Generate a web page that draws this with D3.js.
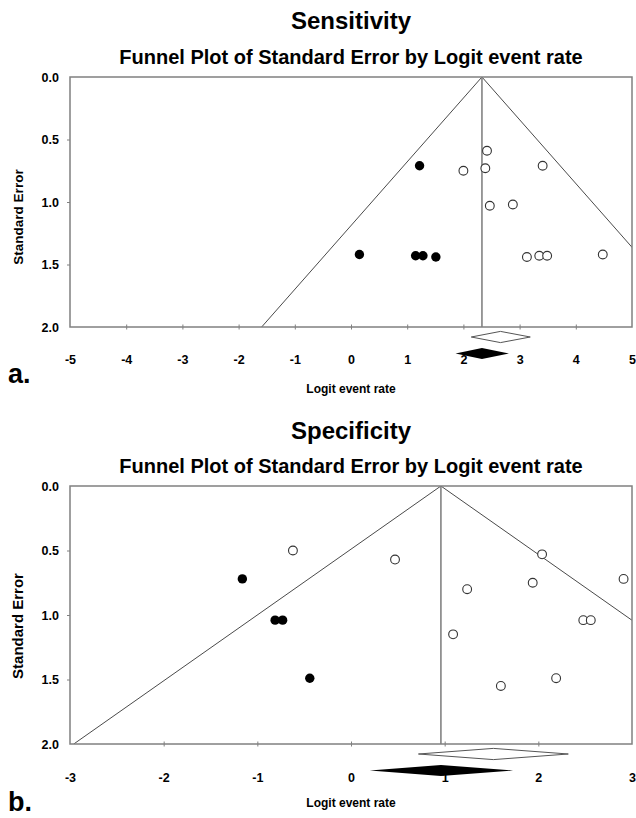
<!DOCTYPE html>
<html>
<head>
<meta charset="utf-8">
<script src="https://cdn.jsdelivr.net/npm/d3@7"></script>
<style>
  body { margin: 0; background: #fff; }
  text { font-family: "Liberation Sans", Arial, sans-serif; font-weight: bold; fill: #000; }
</style>
</head>
<body>
<div id="chart"></div>
<script>
// panel a: sensitivity
var sensObsX  = [2.42, 2.00, 2.39, 3.41, 2.47, 2.88, 3.13, 3.35, 3.49, 4.48];
var sensObsSE = [0.59, 0.75, 0.73, 0.71, 1.03, 1.02, 1.44, 1.43, 1.43, 1.42];
var sensImpX  = [1.22, 0.15, 1.15, 1.28, 1.51];
var sensImpSE = [0.71, 1.42, 1.43, 1.43, 1.44];
var sensObsDiamond = [2.14, 2.66, 3.19];   // lower, point, upper
var sensAdjDiamond = [1.86, 2.33, 2.81];
var sensTicks = [-5, -4, -3, -2, -1, 0, 1, 2, 3, 4, 5];

// panel b: specificity
var specObsX  = [-0.62, 0.47, 2.04, 1.24, 1.94, 2.91, 2.48, 2.56, 1.09, 2.19, 1.60];
var specObsSE = [0.50, 0.57, 0.53, 0.80, 0.75, 0.72, 1.04, 1.04, 1.15, 1.49, 1.55];
var specImpX  = [-1.16, -0.81, -0.73, -0.44];
var specImpSE = [0.72, 1.04, 1.04, 1.49];
var specObsDiamond = [0.72, 1.52, 2.32];
var specAdjDiamond = [0.20, 0.96, 1.73];
var specTicks = [-3, -2, -1, 0, 1, 2, 3];

var seTicks = [0, 0.5, 1.0, 1.5, 2.0];

var W = 636, H = 818;
var svg = d3.select("#chart").append("svg")
    .attr("width", W)
    .attr("height", H);

function drawPanel(opt) {
    var x = d3.scaleLinear().domain(opt.xDomain).range([70, 632]);
    var y = d3.scaleLinear().domain([0, 2]).range([opt.top, opt.bottom]);
    var g = svg.append("g");

    // titles
    g.append("text")
        .attr("x", 351).attr("y", opt.titleY)
        .attr("text-anchor", "middle")
        .style("font-size", "24px")
        .text(opt.title);
    g.append("text")
        .attr("x", 351).attr("y", opt.top - 13)
        .attr("text-anchor", "middle")
        .style("font-size", "20px")
        .text("Funnel Plot of Standard Error by Logit event rate");

    var clipId = "clip" + opt.id;
    g.append("clipPath").attr("id", clipId)
      .append("rect")
        .attr("x", 70).attr("y", opt.top)
        .attr("width", 562).attr("height", opt.bottom - opt.top);

    // funnel (95% limits = mean +/- 1.96 SE)
    var m = opt.mean;
    var funnel = [[m - 1.96 * 2, 2], [m, 0], [m + 1.96 * 2, 2]];
    g.append("path")
        .attr("clip-path", "url(#" + clipId + ")")
        .attr("d", d3.line().x(d => x(d[0])).y(d => y(d[1]))(funnel))
        .attr("fill", "none")
        .attr("stroke", "#4a4a4a")
        .attr("stroke-width", 1);

    g.append("line")
        .attr("x1", x(m)).attr("x2", x(m))
        .attr("y1", y(0)).attr("y2", y(2))
        .attr("stroke", "#7a7a7a")
        .attr("stroke-width", 1.5);

    // frame
    g.append("rect")
        .attr("x", 70).attr("y", opt.top)
        .attr("width", 562).attr("height", opt.bottom - opt.top)
        .attr("fill", "none")
        .attr("stroke", "#808080")
        .attr("stroke-width", 1.5);

    // x axis
    var xAxis = g.append("g")
        .attr("transform", "translate(0," + opt.bottom + ")")
        .call(d3.axisBottom(x).tickValues(opt.ticks).tickSize(5).tickFormat(d3.format("d")));
    xAxis.select(".domain").remove();
    xAxis.selectAll(".tick line")
        .attr("y1", -2.5).attr("y2", 2.5)
        .attr("stroke", "#808080")
        .style("display", d => (d === opt.xDomain[0] || d === opt.xDomain[1]) ? "none" : null);
    xAxis.selectAll(".tick text")
        .attr("y", opt.labelGap).attr("dy", "0.35em")
        .style("font-size", "12.5px")
        .style("font-family", "'Liberation Sans', Arial, sans-serif")
        .style("font-weight", "bold")
        .attr("fill", "#000")
        .text(d => d < 0 ? "-" + Math.abs(d) : d);

    // y axis
    var yAxis = g.append("g")
        .attr("transform", "translate(70,0)")
        .call(d3.axisLeft(y).tickValues(seTicks).tickSize(3).tickFormat(d3.format(".1f")));
    yAxis.select(".domain").remove();
    yAxis.selectAll(".tick line").attr("stroke", "#808080")
        .style("display", d => (d === 0 || d === 2) ? "none" : null);
    yAxis.selectAll(".tick text")
        .attr("x", -11)
        .style("font-size", "12.5px")
        .style("font-family", "'Liberation Sans', Arial, sans-serif")
        .style("font-weight", "bold")
        .attr("fill", "#000");

    g.append("text")
        .attr("transform", "translate(23," + opt.yLabelY + ") rotate(-90)")
        .attr("text-anchor", "middle")
        .style("font-size", opt.yLabelSize + "px")
        .text("Standard Error");

    g.append("text")
        .attr("x", 351).attr("y", opt.xLabelY)
        .attr("text-anchor", "middle")
        .style("font-size", "12px")
        .text("Logit event rate");

    g.append("text")
        .attr("x", 8).attr("y", opt.letterY)
        .style("font-size", "27px")
        .text(opt.letter);

    // points
    var obs = opt.obsX.map((d, i) => ({x: d, se: opt.obsSE[i]}));
    var imp = opt.impX.map((d, i) => ({x: d, se: opt.impSE[i]}));

    g.selectAll(".obs").data(obs).enter().append("circle")
        .attr("class", "obs")
        .attr("cx", d => x(d.x)).attr("cy", d => y(d.se))
        .attr("r", 4.4)
        .attr("fill", "#fff")
        .attr("stroke", "#333")
        .attr("stroke-width", 1.1);

    g.selectAll(".imp").data(imp).enter().append("circle")
        .attr("class", "imp")
        .attr("cx", d => x(d.x)).attr("cy", d => y(d.se))
        .attr("r", 4.7)
        .attr("fill", "#000");

    // summary diamonds
    function diamond(v, cy, h) {
        return "M" + x(v[0]) + "," + cy +
               "L" + x(v[1]) + "," + (cy - h) +
               "L" + x(v[2]) + "," + cy +
               "L" + x(v[1]) + "," + (cy + h) + "Z";
    }
    g.append("path")
        .attr("d", diamond(opt.obsDiamond, opt.bottom + 10, 5.6))
        .attr("fill", "#fff")
        .attr("stroke", "#555")
        .attr("stroke-width", 1);
    g.append("path")
        .attr("d", diamond(opt.adjDiamond, opt.bottom + 26.5, 5.6))
        .attr("fill", "#000");
}

drawPanel({
    id: "a", title: "Sensitivity", letter: "a.",
    xDomain: [-5, 5], ticks: sensTicks,
    top: 77, bottom: 327, titleY: 29, labelGap: 33,
    yLabelY: 217, yLabelSize: 13.5, xLabelY: 393, letterY: 383,
    mean: sensAdjDiamond[1],
    obsX: sensObsX, obsSE: sensObsSE, impX: sensImpX, impSE: sensImpSE,
    obsDiamond: sensObsDiamond, adjDiamond: sensAdjDiamond
});

drawPanel({
    id: "b", title: "Specificity", letter: "b.",
    xDomain: [-3, 3], ticks: specTicks,
    top: 486, bottom: 744, titleY: 439, labelGap: 34,
    yLabelY: 626, yLabelSize: 15, xLabelY: 807, letterY: 811,
    mean: specAdjDiamond[1],
    obsX: specObsX, obsSE: specObsSE, impX: specImpX, impSE: specImpSE,
    obsDiamond: specObsDiamond, adjDiamond: specAdjDiamond
});
</script>
</body>
</html>
